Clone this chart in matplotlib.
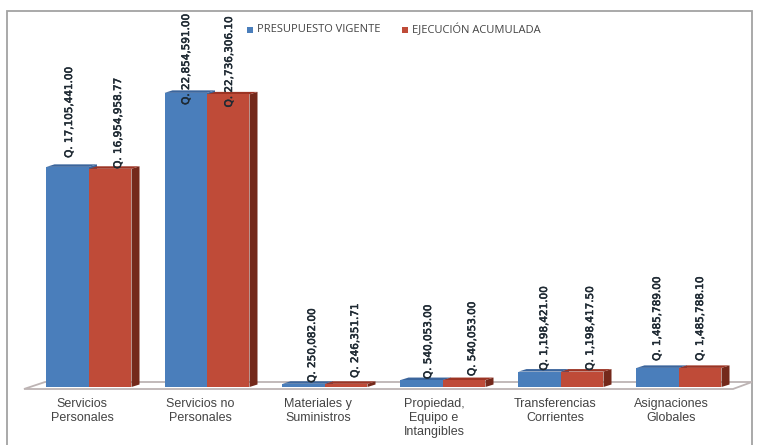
import numpy as np
import matplotlib
matplotlib.use("Agg")
import matplotlib.pyplot as plt
import matplotlib.patheffects as pe
from matplotlib.patches import Polygon, Rectangle

categories = ["Servicios\nPersonales", "Servicios no\nPersonales", "Materiales y\nSuministros",
              "Propiedad,\nEquipo e\nIntangibles", "Transferencias\nCorrientes", "Asignaciones\nGlobales"]
presupuesto = [17105441.00, 22854591.00, 250082.00, 540053.00, 1198421.00, 1485789.00]
ejecucion = [16954958.77, 22736306.10, 246351.71, 540053.00, 1198417.50, 1485788.10]
series_names = ["PRESUPUESTO VIGENTE", "EJECUCIÓN ACUMULADA"]

# layout (pixels)
W, H = 763, 445
X0, STEP = 89.0, 118.0
Y0, PX_PER_UNIT = 387.0, 12.87e-6
BAR_PX, DX_PX, DY_PX = 42.5, 8.0, 2.5
LABEL_DX = [[-20, 29], [-21, 22], [-13, 30], [-15, 29], [-17, 29], [-22, 21]]
LABEL_DY = [[9, 0], [-12, -13], [1, 6], [1, 4], [1, 1], [7, 7]]
CAT_DX = [-7, -7, -7, -9, -6, -8]

BLUE, BLUE_TOP = "#4a7ebb", "#3b659c"
RED, RED_TOP, RED_SIDE = "#bf4b38", "#9c3424", "#74291b"

fig = plt.figure(figsize=(W / 100, H / 100), dpi=100, facecolor="white")
ax = fig.add_axes([0, 0, 1, 1])
ax.set_xlim((0 - X0) / STEP, (W - X0) / STEP)
ax.set_ylim(-(H - Y0) / PX_PER_UNIT, Y0 / PX_PER_UNIT)
ax.axis("off")


def fpt(px, py):
    return (px / W, 1 - py / H)


ax.add_patch(Rectangle(fpt(7, 470), 745 / W, 459 / H, transform=fig.transFigure,
                       fc="white", ec="#a3a3a3", lw=1.3, zorder=0, clip_on=False))
ax.add_patch(Polygon([fpt(24, 389), fpt(45, 382), fpt(752, 382), fpt(733, 389)],
                     closed=True, transform=fig.transFigure, fc="white", ec="#bdb4b4",
                     lw=1.3, zorder=1))

x = np.arange(len(categories))
bw = BAR_PX / STEP
dx = DX_PX / STEP
dy = DY_PX / PX_PER_UNIT


def box(left, value, front, top, side):
    right = left + bw
    ax.fill([right, right + dx, right + dx, right], [0, dy, value + dy, value], color=side, lw=0, zorder=3)
    ax.fill([left, left + dx, right + dx, right], [value, value + dy, value + dy, value], color=top, lw=0, zorder=3)
    ax.bar(left, value, width=bw, align="edge", color=front, lw=0, zorder=4)


for i in x:
    box(i - bw, presupuesto[i], BLUE, BLUE_TOP, BLUE_TOP)
    box(i, ejecucion[i], RED, RED_TOP, RED_SIDE)
    for j, v in enumerate((presupuesto[i], ejecucion[i])):
        ax.annotate(f"Q. {v:,.2f}", xy=(i, v), xytext=(LABEL_DX[i][j], LABEL_DY[i][j]),
                    textcoords="offset pixels", rotation=90, ha="center", va="bottom",
                    fontsize=7.5, color="#1f2a33", family="DejaVu Sans", zorder=6,
                    path_effects=[pe.withStroke(linewidth=0.4, foreground="#1f2a33")])
    ax.annotate(categories[i], xy=(i, 0), xytext=(CAT_DX[i], -11), textcoords="offset pixels",
                ha="center", va="top", fontsize=9, color="#444444", family="Liberation Sans",
                linespacing=1.2, zorder=6)

for sq, tx, col, name in ((247, 257, BLUE, series_names[0]), (402, 412, RED, series_names[1])):
    ax.add_patch(Rectangle(fpt(sq, 33), 6 / W, 6 / H, transform=fig.transFigure, fc=col, lw=0, zorder=6))
    ax.text(tx / W, 1 - 30 / H, name, fontsize=8, color="#444444", family="Open Sans",
            va="center", ha="left", transform=fig.transFigure, zorder=6)

fig.savefig("out.png", dpi=100)
